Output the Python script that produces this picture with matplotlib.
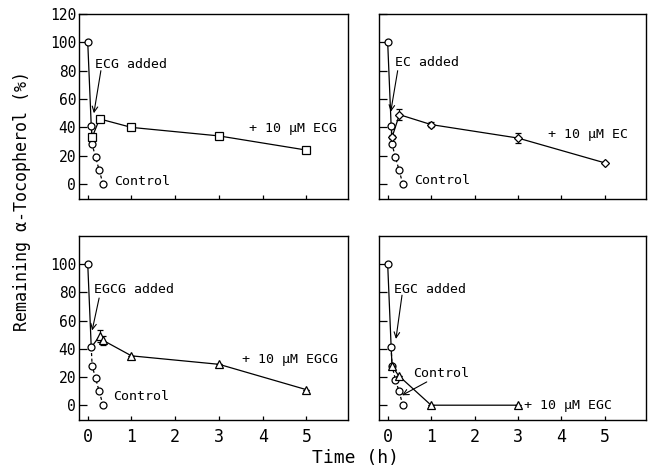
#!/usr/bin/env python3
"""Remaining alpha-tocopherol after catechin addition, four panels."""

import matplotlib
matplotlib.use("Agg")
import matplotlib.pyplot as plt

plt.rcParams['font.family'] = ['DejaVu Sans Mono']

# shared control run (circles), time in h
ctrl_t = [0, 0.08, 0.1, 0.18, 0.26, 0.35]
ctrl_ecg = [100, 41, 28, 19, 10, 0]
ctrl_ec = [100, 41, 28, 19, 10, 0]
ctrl_egcg = [100, 41, 28, 19, 10, 0]
ctrl_egc = [100, 41, 28, 18, 10, 0]

# catechin added at 5 min
ecg_t = [0.1, 0.27, 1, 3, 5]
ecg_y = [33, 46, 40, 34, 24]
ecg_err = [0, 0, 1, 0, 0]

ec_t = [0.1, 0.27, 1, 3, 5]
ec_y = [33, 49, 42, 32.5, 15]
ec_err = [1.5, 4, 2, 3.5, 0]

egcg_t = [0.27, 0.35, 1, 3, 5]
egcg_y = [49, 46, 35, 29, 11]
egcg_err = [4, 3, 0, 0, 0]

egc_t = [0.1, 0.25, 1, 3]
egc_y = [28, 21, 0, 0]
egc_err = [0, 0, 0, 0]

panels = [
    dict(name='ECG', ctrl=ctrl_ecg, t=ecg_t, y=ecg_y, err=ecg_err, marker='s', ms=6,
         added=(0.16, 84.5), arrow=((0.3, 80), (0.14, 50)),
         label=(3.68, 39.5), control=(0.6, 1.7), ctrl_arrow=None),
    dict(name='EC', ctrl=ctrl_ec, t=ec_t, y=ec_y, err=ec_err, marker='D', ms=4,
         added=(0.18, 85.7), arrow=((0.23, 80), (0.07, 51)),
         label=(3.69, 34.8), control=(0.6, 2.8), ctrl_arrow=None),
    dict(name='EGCG', ctrl=ctrl_egcg, t=egcg_t, y=egcg_y, err=egcg_err, marker='^', ms=5.5,
         added=(0.15, 82), arrow=((0.26, 76), (0.1, 53)),
         label=(3.53, 32.4), control=(0.59, 5.9), ctrl_arrow=None),
    dict(name='EGC', ctrl=ctrl_egc, t=egc_t, y=egc_y, err=egc_err, marker='^', ms=5.5,
         added=(0.15, 82), arrow=((0.33, 78), (0.19, 47)),
         label=(3.15, 0), control=(0.58, 22.5), ctrl_arrow=((0.9, 16.5), (0.33, 7))),
]

fig = plt.figure(figsize=(6.52, 4.71), dpi=100)
boxes = [
    [79 / 652, 1 - 199 / 471, 269 / 652, 185 / 471],
    [379 / 652, 1 - 199 / 471, 267 / 652, 185 / 471],
    [79 / 652, 1 - 420 / 471, 269 / 652, 184 / 471],
    [379 / 652, 1 - 420 / 471, 267 / 652, 184 / 471],
]

lw = 0.9
for i, (p, box) in enumerate(zip(panels, boxes)):
    ax = fig.add_axes(box)
    c = p['ctrl']
    # before addition
    ax.plot(ctrl_t[:2], c[:2], '-', color='k', lw=lw)
    # control, dashed
    ax.plot(ctrl_t[1:], c[1:], '--', color='k', lw=lw, dashes=(2.5, 2))
    ax.plot(ctrl_t, c, 'o', mfc='white', mec='k', ms=5, mew=0.9, zorder=3)
    # treated
    tt = [ctrl_t[1]] + p['t']
    yy = [c[1]] + p['y']
    ax.plot(tt, yy, '-', color='k', lw=lw, zorder=2)
    ax.errorbar(p['t'], p['y'], yerr=p['err'], fmt=p['marker'], mfc='white', mec='k',
                ms=p['ms'], mew=0.9, ecolor='k', elinewidth=0.8, capsize=2.5,
                capthick=0.8, zorder=4)

    txt = dict(fontsize=9.5, va='center', ha='left')
    ax.text(*p['added'], p['name'] + ' added', **txt)
    ax.annotate('', xy=p['arrow'][1], xytext=p['arrow'][0],
                arrowprops=dict(arrowstyle='->', lw=0.8, color='k',
                                shrinkA=0, shrinkB=0))
    ax.text(*p['label'], '+ 10 \u00b5M ' + p['name'], **txt)
    ax.text(*p['control'], 'Control', **txt)
    if p['ctrl_arrow']:
        ax.annotate('', xy=p['ctrl_arrow'][1], xytext=p['ctrl_arrow'][0],
                    arrowprops=dict(arrowstyle='->', lw=0.8, color='k',
                                    shrinkA=0, shrinkB=0))

    ax.set_xlim(-0.2, 5.95)
    ax.set_ylim(-10.5, 120)
    ax.set_xticks(range(6))
    if i < 2:
        ax.set_yticks(range(0, 121, 20))
    else:
        ax.set_yticks(range(0, 101, 20))
    ax.tick_params(axis='y', direction='in', length=6, width=0.9, pad=2, labelsize=10.5)
    ax.tick_params(axis='x', direction='in', length=3, width=0.9, pad=6, labelsize=12)
    ax.tick_params(top=False, right=False)
    if i % 2 == 1:
        ax.tick_params(labelleft=False)
    if i < 2:
        ax.tick_params(labelbottom=False)
    for s in ax.spines.values():
        s.set_linewidth(1.0)

fig.text(22 / 652, 1 - 201 / 471, 'Remaining \u03b1-Tocopherol (%)', rotation=90,
         ha='center', va='center', fontsize=12)
fig.text(356 / 652, 1 - 458 / 471, 'Time (h)', ha='center', va='center', fontsize=13)

fig.savefig('out.png', dpi=100)
